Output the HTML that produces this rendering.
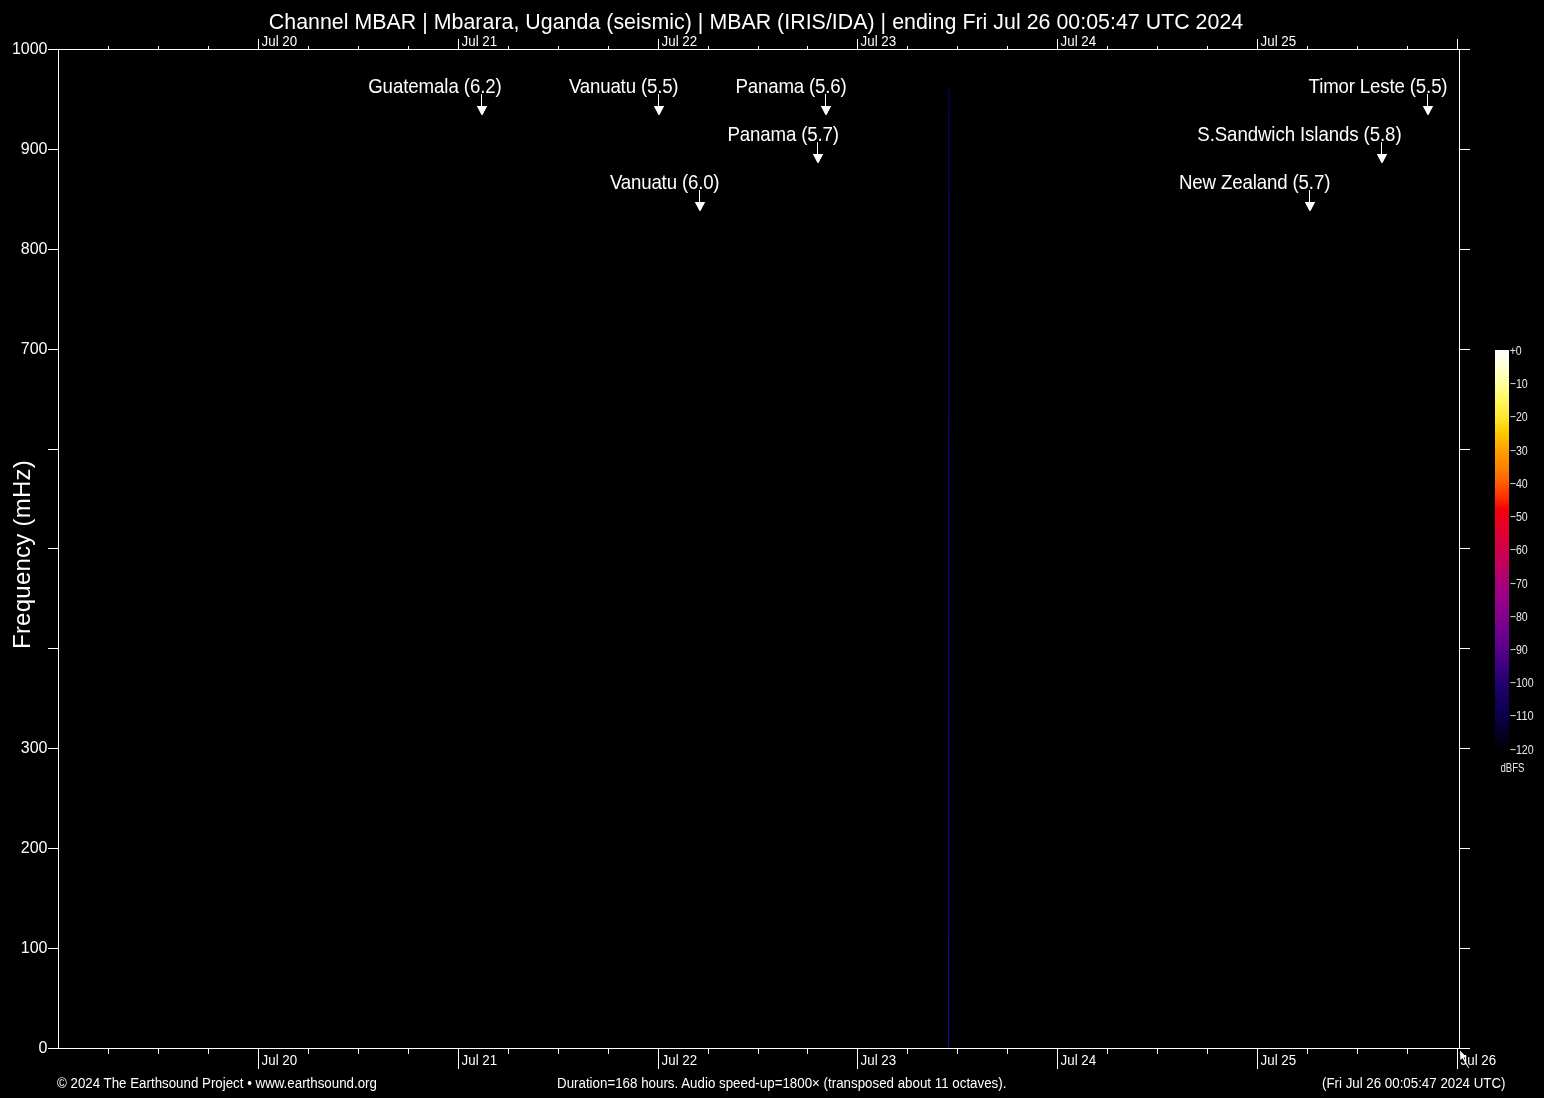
<!DOCTYPE html>
<html lang="en"><head><meta charset="utf-8"><title>Channel MBAR spectrogram</title>
<style>
html,body{margin:0;padding:0;background:#000;}
body{width:1544px;height:1098px;overflow:hidden;}
svg{display:block;will-change:transform;}
text{font-family:"Liberation Sans",sans-serif;fill:#fff;}
.t16{font-size:21.33px;}
.t14{font-size:18.67px;}
.t12{font-size:16px;}
.t10{font-size:13.33px;}
.t18{font-size:24px;}
.cbl{font-size:12.5px;fill:#e8e8e8;}
.ln{fill:#fff;shape-rendering:crispEdges;}
</style></head><body>
<svg width="1544" height="1098" viewBox="0 0 1544 1098">
<rect width="1544" height="1098" fill="#000"/>
<defs><linearGradient id="cb" x1="0" y1="0" x2="0" y2="1">
<stop offset="0.0" stop-color="#ffffff"/>
<stop offset="0.0417" stop-color="#ffffd8"/>
<stop offset="0.0833" stop-color="#ffffa0"/>
<stop offset="0.125" stop-color="#fff860"/>
<stop offset="0.1667" stop-color="#ffe830"/>
<stop offset="0.2083" stop-color="#ffc800"/>
<stop offset="0.25" stop-color="#ffa000"/>
<stop offset="0.2917" stop-color="#ff8400"/>
<stop offset="0.3333" stop-color="#ff5c00"/>
<stop offset="0.375" stop-color="#fc2800"/>
<stop offset="0.4" stop-color="#f40008"/>
<stop offset="0.4167" stop-color="#ee0018"/>
<stop offset="0.4583" stop-color="#e00030"/>
<stop offset="0.5" stop-color="#d00048"/>
<stop offset="0.5417" stop-color="#c00060"/>
<stop offset="0.5833" stop-color="#a80078"/>
<stop offset="0.625" stop-color="#980088"/>
<stop offset="0.6667" stop-color="#84008c"/>
<stop offset="0.7083" stop-color="#700090"/>
<stop offset="0.75" stop-color="#58008c"/>
<stop offset="0.7917" stop-color="#3c0080"/>
<stop offset="0.8333" stop-color="#240070"/>
<stop offset="0.875" stop-color="#14005c"/>
<stop offset="0.9167" stop-color="#0c0048"/>
<stop offset="0.9583" stop-color="#060028"/>
<stop offset="1.0" stop-color="#000008"/>
</linearGradient>
<linearGradient id="vl" x1="0" y1="0" x2="0" y2="1"><stop offset="0" stop-color="#090040"/><stop offset="0.03" stop-color="#0c0058"/><stop offset="0.45" stop-color="#130074"/><stop offset="0.8" stop-color="#20007a"/><stop offset="1" stop-color="#30007c"/></linearGradient>
</defs>
<text class="t16" textLength="974.4" lengthAdjust="spacing" x="268.8" y="29">Channel MBAR | Mbarara, Uganda (seismic) | MBAR (IRIS/IDA) | ending Fri Jul 26 00:05:47 UTC 2024</text>
<rect x="948" y="88" width="1" height="960" fill="url(#vl)" shape-rendering="crispEdges"/>
<rect x="949" y="88" width="1" height="960" fill="#040030" shape-rendering="crispEdges"/>
<rect class="ln" x="48" y="49" width="1422" height="1"/>
<rect class="ln" x="48" y="1048" width="1422" height="1"/>
<rect class="ln" x="58" y="49" width="1" height="1000"/>
<rect class="ln" x="1459" y="49" width="1" height="1000"/>
<rect class="ln" x="48" y="948" width="10" height="1"/>
<rect class="ln" x="1460" y="948" width="10" height="1"/>
<rect class="ln" x="48" y="848" width="10" height="1"/>
<rect class="ln" x="1460" y="848" width="10" height="1"/>
<rect class="ln" x="48" y="748" width="10" height="1"/>
<rect class="ln" x="1460" y="748" width="10" height="1"/>
<rect class="ln" x="48" y="648" width="10" height="1"/>
<rect class="ln" x="1460" y="648" width="10" height="1"/>
<rect class="ln" x="48" y="548" width="10" height="1"/>
<rect class="ln" x="1460" y="548" width="10" height="1"/>
<rect class="ln" x="48" y="449" width="10" height="1"/>
<rect class="ln" x="1460" y="449" width="10" height="1"/>
<rect class="ln" x="48" y="349" width="10" height="1"/>
<rect class="ln" x="1460" y="349" width="10" height="1"/>
<rect class="ln" x="48" y="249" width="10" height="1"/>
<rect class="ln" x="1460" y="249" width="10" height="1"/>
<rect class="ln" x="48" y="149" width="10" height="1"/>
<rect class="ln" x="1460" y="149" width="10" height="1"/>
<rect class="ln" x="108" y="46" width="1" height="3"/>
<rect class="ln" x="108" y="1049" width="1" height="5"/>
<rect class="ln" x="158" y="46" width="1" height="3"/>
<rect class="ln" x="158" y="1049" width="1" height="5"/>
<rect class="ln" x="208" y="46" width="1" height="3"/>
<rect class="ln" x="208" y="1049" width="1" height="5"/>
<rect class="ln" x="258" y="39" width="1" height="10"/>
<rect class="ln" x="258" y="1049" width="1" height="20"/>
<text class="t10" transform="translate(261.6,46) scale(1,1.06)">Jul 20</text>
<text class="t10" transform="translate(261.6,1065) scale(1,1.06)">Jul 20</text>
<rect class="ln" x="308" y="46" width="1" height="3"/>
<rect class="ln" x="308" y="1049" width="1" height="5"/>
<rect class="ln" x="358" y="46" width="1" height="3"/>
<rect class="ln" x="358" y="1049" width="1" height="5"/>
<rect class="ln" x="408" y="46" width="1" height="3"/>
<rect class="ln" x="408" y="1049" width="1" height="5"/>
<rect class="ln" x="458" y="39" width="1" height="10"/>
<rect class="ln" x="458" y="1049" width="1" height="20"/>
<text class="t10" transform="translate(461.6,46) scale(1,1.06)">Jul 21</text>
<text class="t10" transform="translate(461.6,1065) scale(1,1.06)">Jul 21</text>
<rect class="ln" x="508" y="46" width="1" height="3"/>
<rect class="ln" x="508" y="1049" width="1" height="5"/>
<rect class="ln" x="558" y="46" width="1" height="3"/>
<rect class="ln" x="558" y="1049" width="1" height="5"/>
<rect class="ln" x="608" y="46" width="1" height="3"/>
<rect class="ln" x="608" y="1049" width="1" height="5"/>
<rect class="ln" x="658" y="39" width="1" height="10"/>
<rect class="ln" x="658" y="1049" width="1" height="20"/>
<text class="t10" transform="translate(661.6,46) scale(1,1.06)">Jul 22</text>
<text class="t10" transform="translate(661.6,1065) scale(1,1.06)">Jul 22</text>
<rect class="ln" x="708" y="46" width="1" height="3"/>
<rect class="ln" x="708" y="1049" width="1" height="5"/>
<rect class="ln" x="758" y="46" width="1" height="3"/>
<rect class="ln" x="758" y="1049" width="1" height="5"/>
<rect class="ln" x="807" y="46" width="1" height="3"/>
<rect class="ln" x="807" y="1049" width="1" height="5"/>
<rect class="ln" x="857" y="39" width="1" height="10"/>
<rect class="ln" x="857" y="1049" width="1" height="20"/>
<text class="t10" transform="translate(860.6,46) scale(1,1.06)">Jul 23</text>
<text class="t10" transform="translate(860.6,1065) scale(1,1.06)">Jul 23</text>
<rect class="ln" x="907" y="46" width="1" height="3"/>
<rect class="ln" x="907" y="1049" width="1" height="5"/>
<rect class="ln" x="957" y="46" width="1" height="3"/>
<rect class="ln" x="957" y="1049" width="1" height="5"/>
<rect class="ln" x="1007" y="46" width="1" height="3"/>
<rect class="ln" x="1007" y="1049" width="1" height="5"/>
<rect class="ln" x="1057" y="39" width="1" height="10"/>
<rect class="ln" x="1057" y="1049" width="1" height="20"/>
<text class="t10" transform="translate(1060.6,46) scale(1,1.06)">Jul 24</text>
<text class="t10" transform="translate(1060.6,1065) scale(1,1.06)">Jul 24</text>
<rect class="ln" x="1107" y="46" width="1" height="3"/>
<rect class="ln" x="1107" y="1049" width="1" height="5"/>
<rect class="ln" x="1157" y="46" width="1" height="3"/>
<rect class="ln" x="1157" y="1049" width="1" height="5"/>
<rect class="ln" x="1207" y="46" width="1" height="3"/>
<rect class="ln" x="1207" y="1049" width="1" height="5"/>
<rect class="ln" x="1257" y="39" width="1" height="10"/>
<rect class="ln" x="1257" y="1049" width="1" height="20"/>
<text class="t10" transform="translate(1260.6,46) scale(1,1.06)">Jul 25</text>
<text class="t10" transform="translate(1260.6,1065) scale(1,1.06)">Jul 25</text>
<rect class="ln" x="1307" y="46" width="1" height="3"/>
<rect class="ln" x="1307" y="1049" width="1" height="5"/>
<rect class="ln" x="1357" y="46" width="1" height="3"/>
<rect class="ln" x="1357" y="1049" width="1" height="5"/>
<rect class="ln" x="1407" y="46" width="1" height="3"/>
<rect class="ln" x="1407" y="1049" width="1" height="5"/>
<rect class="ln" x="1457" y="39" width="1" height="10"/>
<rect class="ln" x="1457" y="1049" width="1" height="20"/>
<text class="t10" transform="translate(1460.6,1065) scale(1,1.06)">Jul 26</text>
<text class="t12" text-anchor="end" x="47.5" y="53.5">1000</text>
<text class="t12" text-anchor="end" x="47.5" y="153.5">900</text>
<text class="t12" text-anchor="end" x="47.5" y="253.5">800</text>
<text class="t12" text-anchor="end" x="47.5" y="353.5">700</text>
<text class="t12" text-anchor="end" x="47.5" y="752.5">300</text>
<text class="t12" text-anchor="end" x="47.5" y="852.5">200</text>
<text class="t12" text-anchor="end" x="47.5" y="952.5">100</text>
<text class="t12" text-anchor="end" x="47.5" y="1052.5">0</text>
<text class="t18" transform="translate(30.1,649) rotate(-90)" textLength="188.7" lengthAdjust="spacing">Frequency (mHz)</text>
<text class="t14" textLength="133.6" lengthAdjust="spacing" transform="translate(368.2,93) scale(1,1.04)">Guatemala (6.2)</text>
<rect class="ln" x="481" y="94" width="1" height="13"/>
<path fill="#fff" d="M476.8 105.9H487.2L482.5 115.1H481.5Z"/>
<text class="t14" textLength="109.7" lengthAdjust="spacing" transform="translate(568.9,93) scale(1,1.04)">Vanuatu (5.5)</text>
<rect class="ln" x="658" y="94" width="1" height="13"/>
<path fill="#fff" d="M653.8 105.9H664.2L659.5 115.1H658.5Z"/>
<text class="t14" textLength="111.4" lengthAdjust="spacing" transform="translate(735.4,93) scale(1,1.04)">Panama (5.6)</text>
<rect class="ln" x="825" y="94" width="1" height="13"/>
<path fill="#fff" d="M820.8 105.9H831.2L826.5 115.1H825.5Z"/>
<text class="t14" textLength="111.5" lengthAdjust="spacing" transform="translate(727.5,141) scale(1,1.04)">Panama (5.7)</text>
<rect class="ln" x="817" y="142" width="1" height="13"/>
<path fill="#fff" d="M812.8 153.9H823.2L818.5 163.1H817.5Z"/>
<text class="t14" textLength="109.7" lengthAdjust="spacing" transform="translate(609.9,189) scale(1,1.04)">Vanuatu (6.0)</text>
<rect class="ln" x="699" y="190" width="1" height="13"/>
<path fill="#fff" d="M694.8 201.9H705.2L700.5 211.1H699.5Z"/>
<text class="t14" textLength="139.0" lengthAdjust="spacing" transform="translate(1308.6,93) scale(1,1.04)">Timor Leste (5.5)</text>
<rect class="ln" x="1427" y="94" width="1" height="13"/>
<path fill="#fff" d="M1422.8 105.9H1433.2L1428.5 115.1H1427.5Z"/>
<text class="t14" textLength="204.3" lengthAdjust="spacing" transform="translate(1197.3,141) scale(1,1.04)">S.Sandwich Islands (5.8)</text>
<rect class="ln" x="1381" y="142" width="1" height="13"/>
<path fill="#fff" d="M1376.8 153.9H1387.2L1382.5 163.1H1381.5Z"/>
<text class="t14" textLength="151.5" lengthAdjust="spacing" transform="translate(1178.9,189) scale(1,1.04)">New Zealand (5.7)</text>
<rect class="ln" x="1309" y="190" width="1" height="13"/>
<path fill="#fff" d="M1304.8 201.9H1315.2L1310.5 211.1H1309.5Z"/>
<rect x="1495" y="350" width="14" height="399" fill="url(#cb)" shape-rendering="crispEdges"/>
<text class="cbl" textLength="12" lengthAdjust="spacingAndGlyphs" x="1509.7" y="354.9">+0</text>
<text class="cbl" textLength="18" lengthAdjust="spacingAndGlyphs" x="1509.7" y="388.1">−10</text>
<text class="cbl" textLength="18" lengthAdjust="spacingAndGlyphs" x="1509.7" y="421.4">−20</text>
<text class="cbl" textLength="18" lengthAdjust="spacingAndGlyphs" x="1509.7" y="454.6">−30</text>
<text class="cbl" textLength="18" lengthAdjust="spacingAndGlyphs" x="1509.7" y="487.8">−40</text>
<text class="cbl" textLength="18" lengthAdjust="spacingAndGlyphs" x="1509.7" y="521.0">−50</text>
<text class="cbl" textLength="18" lengthAdjust="spacingAndGlyphs" x="1509.7" y="554.3">−60</text>
<text class="cbl" textLength="18" lengthAdjust="spacingAndGlyphs" x="1509.7" y="587.5">−70</text>
<text class="cbl" textLength="18" lengthAdjust="spacingAndGlyphs" x="1509.7" y="620.7">−80</text>
<text class="cbl" textLength="18" lengthAdjust="spacingAndGlyphs" x="1509.7" y="654.0">−90</text>
<text class="cbl" textLength="24" lengthAdjust="spacingAndGlyphs" x="1509.7" y="687.2">−100</text>
<text class="cbl" textLength="24" lengthAdjust="spacingAndGlyphs" x="1509.7" y="720.4">−110</text>
<text class="cbl" textLength="24" lengthAdjust="spacingAndGlyphs" x="1509.7" y="753.7">−120</text>
<text class="cbl" textLength="24" lengthAdjust="spacingAndGlyphs" x="1500.5" y="772">dBFS</text>
<text class="t10" transform="translate(57,1088) scale(1,1.06)">© 2024 The Earthsound Project • www.earthsound.org</text>
<text class="t10" textLength="449.4" lengthAdjust="spacing" transform="translate(557,1088) scale(1,1.06)">Duration=168 hours. Audio speed-up=1800× (transposed about 11 octaves).</text>
<text class="t10" text-anchor="end" transform="translate(1505.5,1088) scale(1,1.06)">(Fri Jul 26 00:05:47 2024 UTC)</text>
<path fill="#fff" d="M1460 1050.5L1460.3 1060L1462.5 1058.2L1468.3 1068.2L1469 1067.7L1463.6 1057.6L1466.6 1057.2Z"/>
</svg></body></html>
